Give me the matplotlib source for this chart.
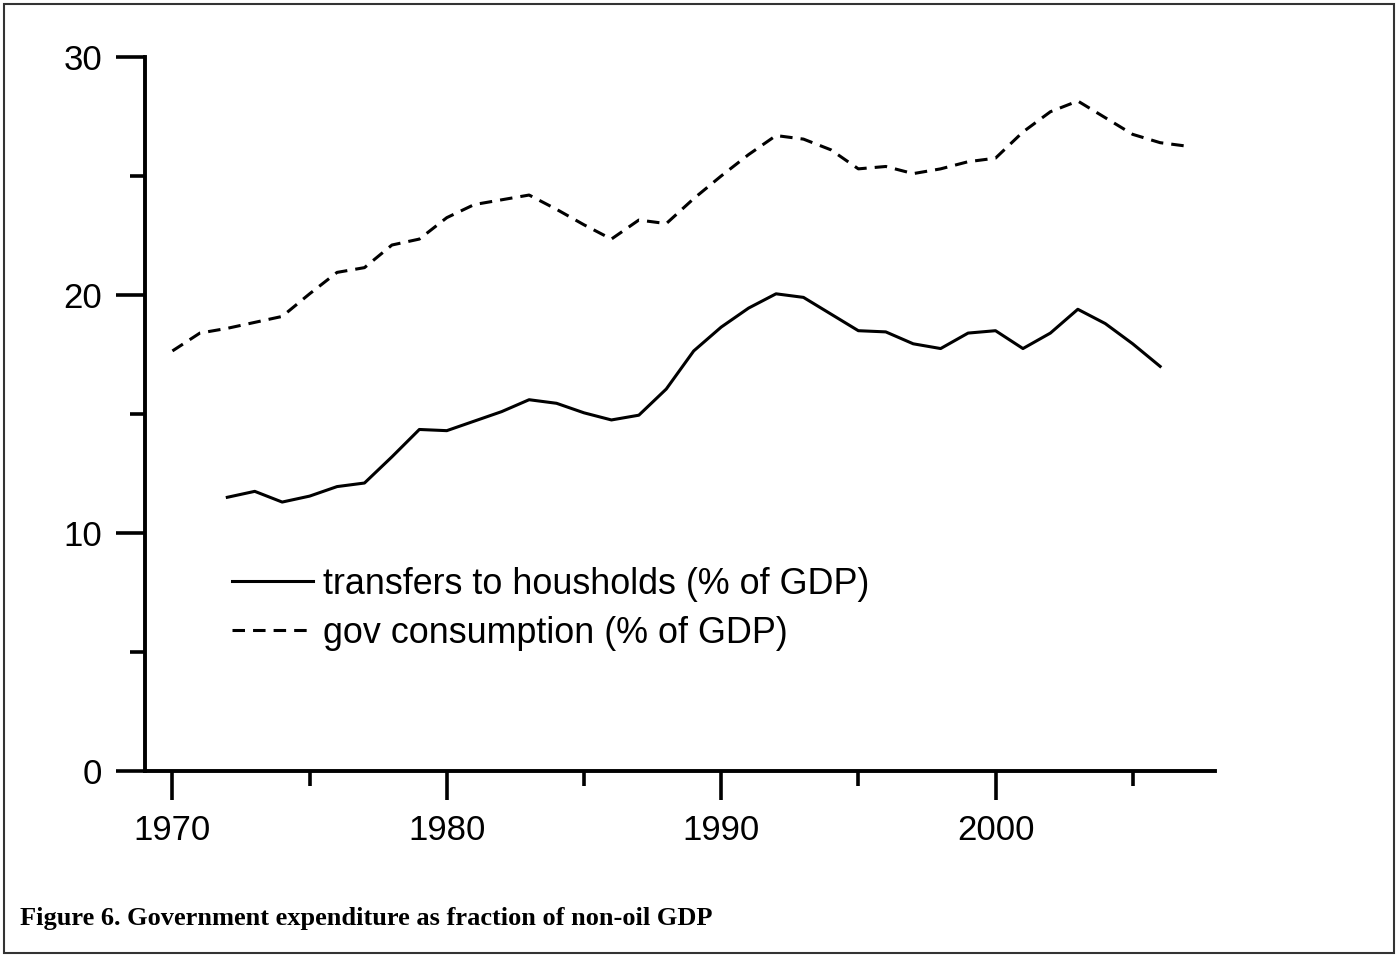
import matplotlib
matplotlib.use('agg')
import matplotlib.pyplot as plt
from matplotlib.patches import Rectangle
from matplotlib.ticker import MultipleLocator

# transfers to households, 1972-2006
anos_transf = list(range(1972, 2007))
transferencias = [11.5, 11.75, 11.3, 11.55, 11.95, 12.1, 13.2, 14.35, 14.3, 14.7,
                  15.1, 15.6, 15.45, 15.05, 14.75, 14.95, 16.05, 17.65, 18.65, 19.45,
                  20.05, 19.9, 19.2, 18.5, 18.45, 17.95, 17.75, 18.4, 18.5, 17.75,
                  18.4, 19.4, 18.8, 17.95, 17.0]

# government consumption, 1970-2007
anos_cons = list(range(1970, 2008))
consumo = [17.65, 18.4, 18.6, 18.85, 19.1, 20.05, 20.95, 21.15, 22.1, 22.35,
           23.25, 23.8, 24.0, 24.2, 23.6, 22.95, 22.35, 23.15, 23.0, 24.05,
           25.0, 25.9, 26.7, 26.55, 26.1, 25.3, 25.4, 25.1, 25.3, 25.6,
           25.75, 26.85, 27.7, 28.15, 27.45, 26.75, 26.4, 26.25]

rotulos = ['transfers to housholds (% of GDP)', 'gov consumption (% of GDP)']
titulo = 'Figure 6. Government expenditure as fraction of non-oil GDP'

plt.rcParams['font.family'] = ['Liberation Sans', 'DejaVu Sans']
plt.rcParams['lines.scale_dashes'] = False

fig = plt.figure(figsize=(13.97, 9.55), dpi=100)
ax = fig.add_axes([145 / 1397, 1 - 771 / 955, (1215 - 145) / 1397, (771 - 57) / 955])

ax.plot(anos_transf, transferencias, color='black', lw=2.2, label=rotulos[0])
ax.plot(anos_cons, consumo, color='black', lw=2.2, dashes=(9, 5.8), label=rotulos[1])

ax.set_xlim(1969, 2008)
ax.set_ylim(0, 30)
ax.xaxis.set_major_locator(MultipleLocator(10))
ax.xaxis.set_minor_locator(MultipleLocator(5))
ax.yaxis.set_major_locator(MultipleLocator(10))
ax.yaxis.set_minor_locator(MultipleLocator(5))

for lado in ['top', 'right']:
    ax.spines[lado].set_visible(False)
for lado in ['left', 'bottom']:
    ax.spines[lado].set_linewidth(2.8)

ax.tick_params(which='major', length=21, width=2.6, labelsize=25, pad=10)
ax.tick_params(which='minor', length=11, width=2.6)

fig.legend(frameon=False, fontsize=25.8, handlelength=2.25, handletextpad=0.3,
           labelspacing=0.38, borderpad=0, borderaxespad=0,
           loc='upper left', bbox_to_anchor=(232 / 1397, 1 - 567 / 955))

fig.text(20 / 1397, 1 - 925 / 955, titulo, family='Liberation Serif',
         fontweight='bold', fontsize=19, va='baseline', ha='left')

# moldura em volta da figura
fig.patches.append(Rectangle((4 / 1397, 2 / 955), 1390 / 1397, 949 / 955,
                             transform=fig.transFigure, fill=False,
                             edgecolor='#333333', lw=1.5))

fig.savefig('out.png', dpi=100)
plt.close('all')
